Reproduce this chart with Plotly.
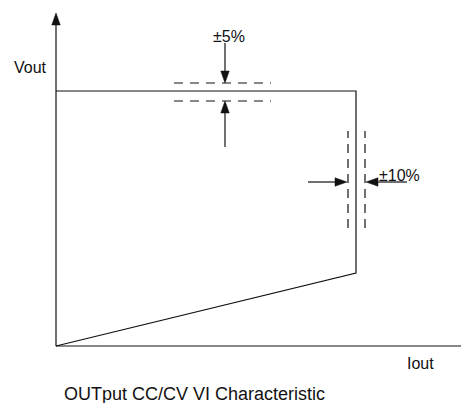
import numpy as np
import plotly.graph_objects as go

# ---- data (schematic units, origin at the axes corner) ----
iout_limit = 300          # CC current limit
vout_set = 255            # CV output voltage
vout_fold = 73            # voltage at current limit, lower end
y_axis_top = 333
x_axis_end = 405

v_band = [263, 245]       # +-5% band of Vout
v_band_x = [118, 215]
i_band = [292, 309]       # +-10% band of Iout
i_band_y = [118, 215]

# arrows: (tail_x, tail_y, tip_x, tip_y)
arrow_v_down = (169, 303, 169, 263)
arrow_v_up = (169, 199, 169, 245)
arrow_i_right = (252, 164, 291, 164)
arrow_i_left = (351, 164, 310, 164)

labels = {"Vout": (-26, 279), "Iout": (364, -17), "±5%": (173, 310), "±10%": (343, 171)}
title_text = "OUTput CC/CV VI Characteristic"

INK = "#111111"
FONT = "Liberation Sans, Arial, sans-serif"

fig = go.Figure()

def line(xs, ys, dash="solid", width=1.2):
    fig.add_trace(go.Scatter(x=xs, y=ys, mode="lines", hoverinfo="skip",
                             line=dict(color=INK, width=width, dash=dash),
                             showlegend=False))

def arrow(tx, ty, hx, hy, head_len=12, head_w=8.5):
    d = np.array([hx - tx, hy - ty], dtype=float)
    n = d / np.linalg.norm(d)
    p = np.array([-n[1], n[0]])
    tip = np.array([hx, hy], dtype=float)
    base = tip - n * head_len
    line([tx, base[0]], [ty, base[1]])
    pts = [tip, base + p * head_w / 2, base - p * head_w / 2, tip]
    fig.add_trace(go.Scatter(x=[q[0] for q in pts], y=[q[1] for q in pts],
                             mode="lines", fill="toself", fillcolor=INK,
                             line=dict(color=INK, width=0.5), hoverinfo="skip",
                             showlegend=False))

# axes
arrow(0, 0, 0, y_axis_top)
line([0, x_axis_end], [0, 0])

# CC/CV characteristic
line([0, iout_limit, iout_limit, 0], [vout_set, vout_set, vout_fold, 0])

# tolerance bands
for v in v_band:
    line(v_band_x, [v, v], dash="9px,7px", width=1.2)
for i in i_band:
    line([i, i], i_band_y, dash="9px,6px", width=1.2)

for a in (arrow_v_down, arrow_v_up, arrow_i_right, arrow_i_left):
    arrow(*a)

for txt, (x, y) in labels.items():
    fig.add_annotation(x=x, y=y, text=txt, showarrow=False,
                       font=dict(family=FONT, size=16, color=INK))

fig.add_annotation(x=138.5, y=-48, text=title_text, showarrow=False,
                   font=dict(family=FONT, size=18, color=INK))

fig.update_layout(
    width=461, height=403, autosize=False,
    margin=dict(l=0, r=0, t=0, b=0),
    paper_bgcolor="white", plot_bgcolor="white",
    xaxis=dict(range=[-56, 405], visible=False, fixedrange=True),
    yaxis=dict(range=[-57, 346], visible=False, fixedrange=True),
)

fig.write_html("out.html", config={"displayModeBar": False, "staticPlot": True},
               post_script="document.body.style.margin='0';"
                           "document.body.style.overflow='hidden';")
